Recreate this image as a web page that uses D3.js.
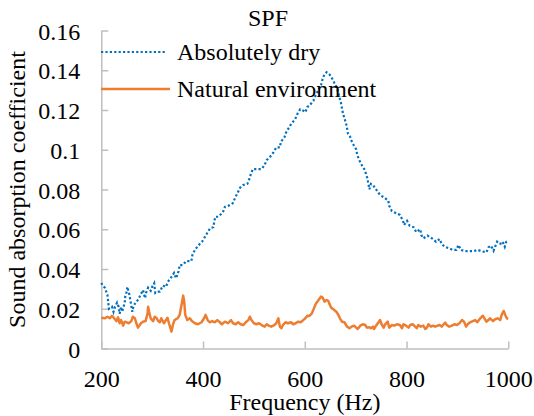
<!DOCTYPE html>
<html>
<head>
<meta charset="utf-8">
<script src="https://cdn.jsdelivr.net/npm/d3@7"></script>
<style>
  html, body { margin: 0; padding: 0; background: #fff; }
  svg { display: block; }
  text { font-family: "Liberation Serif", "Times New Roman", serif; fill: #000; }
</style>
</head>
<body>
<svg id="chart" width="534" height="416"></svg>
<script>
// Sound absorption coefficient of SPF versus frequency
const chartTitle = "SPF";
const seriesNames = ["Absolutely dry", "Natural environment"];
const xTickValues = [200, 400, 600, 800, 1000];
const yTickValues = [0, 0.02, 0.04, 0.06, 0.08, 0.1, 0.12, 0.14, 0.16];

const dryFreq = [200,202,207,212,215,221,224,227,231,234,236,239,241,246,247,250,251,254,256,258,261,263,267,273,277,282,286,288,292,297,300,304,306,310,315,321,327,331,338,343,347,352,354,360,367,377,379,384,390,398,408,414,420,424,430,439,443,450,458,465,473,479,487,491,494,498,507,515,521,525,532,538,544,551,553,560,563,568,574,581,585,591,597,601,605,610,617,622,627,632,635,639,643,651,656,662,666,668,671,673,675,678,681,683,685,689,691,696,701,703,707,712,717,720,723,725,727,730,734,740,748,756,764,766,771,780,787,793,795,801,806,814,819,827,829,833,841,850,858,865,869,875,884,891,898,902,907,915,924,932,940,948,957,961,966,971,974,978,982,987,989,993,996,1000];
const dryVal = [0.033,0.032,0.0305,0.027,0.020,0.021,0.0185,0.021,0.023,0.021,0.0175,0.021,0.0185,0.023,0.026,0.0286,0.031,0.0286,0.026,0.023,0.0185,0.021,0.023,0.0247,0.027,0.0294,0.0253,0.028,0.0306,0.029,0.031,0.0328,0.028,0.0286,0.0286,0.0316,0.031,0.0336,0.036,0.038,0.0353,0.039,0.042,0.042,0.044,0.044,0.047,0.0496,0.0517,0.0537,0.058,0.0605,0.061,0.0663,0.0663,0.0685,0.0713,0.0718,0.073,0.0768,0.081,0.0823,0.0828,0.0853,0.0878,0.0903,0.0903,0.0903,0.0923,0.0948,0.0965,0.0985,0.1012,0.1012,0.104,0.1063,0.1086,0.1108,0.1133,0.1153,0.1178,0.1204,0.1197,0.1189,0.1215,0.1225,0.1247,0.128,0.130,0.1326,0.1356,0.1381,0.139,0.1373,0.1347,0.1317,0.1287,0.1264,0.1237,0.1209,0.1183,0.1158,0.1133,0.1108,0.108,0.1066,0.1049,0.1024,0.1002,0.0974,0.0948,0.0923,0.0902,0.0881,0.0856,0.0828,0.0801,0.0828,0.0823,0.0801,0.0772,0.076,0.0744,0.0718,0.0692,0.068,0.0672,0.0643,0.0621,0.0642,0.0618,0.061,0.0586,0.060,0.0571,0.0554,0.0568,0.0554,0.0537,0.0551,0.0526,0.0512,0.0504,0.0496,0.0496,0.0521,0.0496,0.049,0.049,0.049,0.0496,0.0489,0.0484,0.0509,0.0517,0.0492,0.0512,0.0537,0.0526,0.0529,0.0537,0.0512,0.0537,0.054];

const natFreq = [200,207,212,217,221,230,233,236,239,243,246,254,259,262,266,269,272,278,282,287,291,292,294,297,302,305,308,312,315,318,323,327,330,333,338,341,344,350,354,357,361,363,365,369,374,378,384,390,397,402,405,409,413,418,423,428,433,437,443,449,455,459,464,469,474,479,484,489,492,495,500,505,510,515,521,525,529,534,540,544,548,551,554,557,562,567,573,577,582,587,592,597,601,605,609,614,618,622,627,632,635,639,643,646,648,652,656,662,666,669,673,678,683,688,692,697,701,704,709,714,719,722,727,730,734,736,740,745,748,751,755,758,763,766,771,776,781,787,791,794,799,804,807,812,817,820,823,828,833,837,840,843,848,852,856,865,869,873,876,879,884,889,894,899,904,909,913,917,920,925,930,935,939,945,950,953,957,961,964,970,974,979,984,987,991,994,997,1000];
const natVal = [0.0155,0.0152,0.016,0.0152,0.0165,0.0138,0.0157,0.0127,0.0143,0.0115,0.0135,0.0127,0.0138,0.016,0.0152,0.0127,0.0105,0.0127,0.0135,0.0138,0.0177,0.021,0.0185,0.0152,0.0138,0.016,0.0155,0.0138,0.0132,0.0152,0.0127,0.0143,0.0155,0.0127,0.0085,0.0122,0.0143,0.0152,0.0169,0.021,0.0266,0.0236,0.0169,0.0143,0.0152,0.0138,0.0127,0.0122,0.0132,0.0152,0.0169,0.0143,0.0132,0.0138,0.0132,0.0143,0.0132,0.0122,0.0135,0.0127,0.0143,0.0127,0.0122,0.0132,0.0122,0.0118,0.0132,0.0143,0.016,0.0143,0.0127,0.0122,0.0127,0.0118,0.011,0.0122,0.0115,0.011,0.0118,0.0127,0.0152,0.011,0.0102,0.0118,0.0132,0.0127,0.0132,0.0122,0.0127,0.0135,0.0132,0.0143,0.0152,0.0165,0.0164,0.0177,0.0202,0.0227,0.0244,0.0261,0.0256,0.0236,0.0244,0.024,0.0227,0.0205,0.0197,0.0185,0.0169,0.0152,0.0135,0.0132,0.011,0.0102,0.011,0.0115,0.0105,0.0098,0.0115,0.0122,0.0118,0.0105,0.0107,0.0102,0.011,0.0098,0.0115,0.0132,0.0143,0.0122,0.0105,0.0122,0.0135,0.0105,0.0118,0.0115,0.0122,0.0118,0.0102,0.0122,0.0115,0.0105,0.0118,0.0122,0.011,0.0102,0.0118,0.011,0.0115,0.0098,0.0105,0.0122,0.011,0.0115,0.011,0.0118,0.011,0.0122,0.013,0.0118,0.011,0.0115,0.0122,0.0118,0.0127,0.0143,0.0135,0.011,0.0122,0.0132,0.0138,0.0143,0.0132,0.0152,0.0165,0.0152,0.0135,0.0143,0.0152,0.0138,0.0147,0.0152,0.0143,0.0169,0.0189,0.0169,0.0152,0.015];

const svg = d3.select("#chart");
const axisColor = "#bfbfbf";
const fontSize = 24;

const x = d3.scaleLinear().domain([200, 1000]).range([101.3, 508.3]);
const y = d3.scaleLinear().domain([0, 0.16]).range([348.5, 30.5]);

// y axis: ticks point into the plot
const yAxis = svg.append("g")
  .attr("transform", `translate(${x(200)},0)`)
  .call(d3.axisLeft(y).tickValues(yTickValues).tickSizeInner(-7).tickSizeOuter(0).tickPadding(21)
    .tickFormat(d => d === 0 ? "0" : String(+d.toFixed(2))));
yAxis.select(".domain").attr("stroke", axisColor).attr("stroke-width", 1.5);
yAxis.selectAll(".tick line").attr("stroke", axisColor).attr("stroke-width", 1.5);
yAxis.selectAll(".tick text").attr("font-size", fontSize).attr("font-family", "Liberation Serif").attr("fill", "#000").attr("dy", "0.36em");

// x axis: ticks point up into the plot
const xAxis = svg.append("g")
  .attr("transform", `translate(0,${y(0)})`)
  .call(d3.axisBottom(x).tickValues(xTickValues).tickSizeInner(-7).tickSizeOuter(0).tickFormat(d3.format("d")));
xAxis.select(".domain").attr("stroke", axisColor).attr("stroke-width", 1.5);
xAxis.selectAll(".tick line").attr("stroke", axisColor).attr("stroke-width", 1.5);
xAxis.selectAll(".tick text").attr("font-size", fontSize).attr("font-family", "Liberation Serif").attr("fill", "#000")
  .attr("y", 38).attr("dy", null);

const line = d3.line().x(d => x(d[0])).y(d => y(d[1]));
const natData = natFreq.map((f, i) => [f, natVal[i]]);
const dryData = dryFreq.map((f, i) => [f, dryVal[i]]);

const orange = "#ed7d31";
const blue = "#0070c0";

svg.append("path").datum(natData)
  .attr("d", line).attr("fill", "none").attr("stroke", orange)
  .attr("stroke-width", 2.5).attr("stroke-linejoin", "round");

svg.append("path").datum(dryData)
  .attr("d", line).attr("fill", "none").attr("stroke", blue)
  .attr("stroke-width", 2.2).attr("stroke-dasharray", "2.2,2.2");

// title
svg.append("text").attr("x", 268).attr("y", 26).attr("text-anchor", "middle")
  .attr("font-size", fontSize).text(chartTitle);

// legend
const legend = svg.append("g");
legend.append("line").attr("x1", 101).attr("x2", 165).attr("y1", 52).attr("y2", 52)
  .attr("stroke", blue).attr("stroke-width", 2.2).attr("stroke-dasharray", "2.2,2.2");
legend.append("text").attr("x", 177).attr("y", 60).attr("font-size", fontSize).text(seriesNames[0]);
legend.append("line").attr("x1", 101).attr("x2", 170).attr("y1", 89).attr("y2", 89)
  .attr("stroke", orange).attr("stroke-width", 2.5);
legend.append("text").attr("x", 177).attr("y", 97).attr("font-size", fontSize).text(seriesNames[1]);

// axis titles
svg.append("text").attr("x", 304.8).attr("y", 410).attr("text-anchor", "middle")
  .attr("font-size", fontSize).text("Frequency (Hz)");
svg.append("text").attr("transform", `translate(25,${(y(0) + y(0.16)) / 2}) rotate(-90)`)
  .attr("text-anchor", "middle").attr("font-size", fontSize).text("Sound absorption coefficient");
</script>
</body>
</html>
